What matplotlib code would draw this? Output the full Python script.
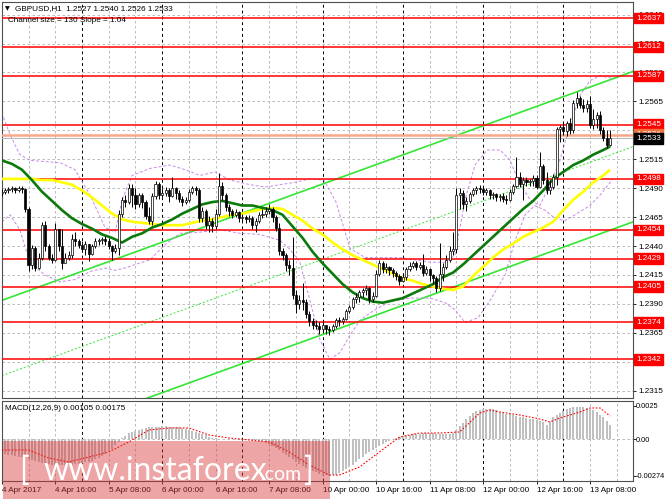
import numpy as np
import matplotlib
matplotlib.use("Agg")
import matplotlib.pyplot as plt
from matplotlib.patches import Rectangle

W, H = 665, 499
DPI = 100
FONT = "Liberation Sans"

# ── data (H1 candles, bar 0 = 4 Apr 2017 00:00) ─────────────────────────────
first_open = 1.2486
close = [1.2487, 1.2488, 1.2489, 1.2490, 1.2488, 1.2490, 1.2489, 1.2472, 1.2424, 1.2438,
         1.2421, 1.2430, 1.2458, 1.2440, 1.2430, 1.2428, 1.2455, 1.2440, 1.2425, 1.2430,
         1.2432, 1.2446, 1.2444, 1.2441, 1.2437, 1.2442, 1.2433, 1.2440, 1.2444, 1.2445,
         1.2446, 1.2444, 1.2440, 1.2436, 1.2438, 1.2468, 1.2480, 1.2478, 1.2490, 1.2484,
         1.2476, 1.2484, 1.2478, 1.2466, 1.2462, 1.2483, 1.2494, 1.2484, 1.2486, 1.2488,
         1.2483, 1.2490, 1.2486, 1.2481, 1.2478, 1.2480, 1.2487, 1.2490, 1.2488, 1.2464,
         1.2470, 1.2458, 1.2462, 1.2457, 1.2468, 1.2492, 1.2484, 1.2474, 1.2470, 1.2467,
         1.2469, 1.2464, 1.2465, 1.2463, 1.2464, 1.2458, 1.2462, 1.2467, 1.2468, 1.2470,
         1.2472, 1.2465, 1.2456, 1.2436, 1.2432, 1.2424, 1.2421, 1.2398, 1.2390, 1.2393,
         1.2392, 1.2381, 1.2375, 1.2372, 1.2371, 1.2368, 1.2372, 1.2368, 1.2367, 1.2371,
         1.2376, 1.2375, 1.2377, 1.2384, 1.2387, 1.2394, 1.2396, 1.2400, 1.2402, 1.2404,
         1.2394, 1.2397, 1.2416, 1.2425, 1.2420, 1.2422, 1.2419, 1.2417, 1.2414, 1.2410,
         1.2413, 1.2420, 1.2423, 1.2425, 1.2422, 1.2424, 1.2417, 1.2420, 1.2415, 1.2412,
         1.2404, 1.2416, 1.2422, 1.2428, 1.2436, 1.2437, 1.2484, 1.2486, 1.2476, 1.2479,
         1.2485, 1.2488, 1.2490, 1.2489, 1.2487, 1.2488, 1.2484, 1.2485, 1.2482, 1.2483,
         1.2481, 1.2480, 1.2487, 1.2492, 1.2500, 1.2494, 1.2497, 1.2495, 1.2496, 1.2499,
         1.2491, 1.2509, 1.2497, 1.2488, 1.2491, 1.2500, 1.2541, 1.2543, 1.2539, 1.2546,
         1.2540, 1.2564, 1.2568, 1.2562, 1.2559, 1.2563, 1.2545, 1.2550, 1.2553, 1.2540,
         1.2533, 1.2527, 1.2533]
high = [1.2489, 1.2490, 1.2491, 1.2492, 1.2491, 1.2492, 1.2492, 1.2490, 1.2474, 1.2441,
        1.2440, 1.2434, 1.2461, 1.2462, 1.2442, 1.2433, 1.2460, 1.2452, 1.2455, 1.2434,
        1.2436, 1.2450, 1.2452, 1.2446, 1.2444, 1.2444, 1.2442, 1.2442, 1.2447, 1.2447,
        1.2448, 1.2449, 1.2447, 1.2441, 1.2442, 1.2471, 1.2482, 1.2484, 1.2494, 1.2494,
        1.2490, 1.2486, 1.2486, 1.2480, 1.2474, 1.2486, 1.2496, 1.2495, 1.2490, 1.2491,
        1.2490, 1.2500, 1.2491, 1.2488, 1.2483, 1.2482, 1.2489, 1.2492, 1.2492, 1.2490,
        1.2474, 1.2472, 1.2466, 1.2464, 1.2472, 1.2503, 1.2495, 1.2486, 1.2476, 1.2472,
        1.2472, 1.2470, 1.2468, 1.2467, 1.2467, 1.2466, 1.2464, 1.2469, 1.2472, 1.2474,
        1.2476, 1.2474, 1.2467, 1.2460, 1.2438, 1.2434, 1.2428, 1.2448, 1.2402, 1.2398,
        1.2408, 1.2394, 1.2384, 1.2378, 1.2376, 1.2374, 1.2375, 1.2372, 1.2371, 1.2373,
        1.2378, 1.2379, 1.2379, 1.2386, 1.2389, 1.2396, 1.2399, 1.2402, 1.2404, 1.2406,
        1.2405, 1.2400, 1.2419, 1.2428, 1.2427, 1.2425, 1.2423, 1.2421, 1.2418, 1.2416,
        1.2416, 1.2422, 1.2426, 1.2427, 1.2427, 1.2426, 1.2433, 1.2423, 1.2421, 1.2416,
        1.2414, 1.2443, 1.2425, 1.2432, 1.2440, 1.2452, 1.2490, 1.2490, 1.2488, 1.2482,
        1.2487, 1.2490, 1.2492, 1.2493, 1.2491, 1.2490, 1.2489, 1.2487, 1.2486, 1.2485,
        1.2486, 1.2484, 1.2489, 1.2494, 1.2517, 1.2504, 1.2500, 1.2500, 1.2498, 1.2501,
        1.2501, 1.2521, 1.2511, 1.2504, 1.2497, 1.2502, 1.2543, 1.2545, 1.2547, 1.2548,
        1.2551, 1.2566, 1.2573, 1.2570, 1.2567, 1.2566, 1.2570, 1.2558, 1.2556, 1.2557,
        1.2543, 1.2540, 1.2540]
low = [1.2483, 1.2485, 1.2486, 1.2487, 1.2486, 1.2487, 1.2486, 1.2469, 1.2418, 1.2420,
       1.2418, 1.2420, 1.2428, 1.2436, 1.2428, 1.2425, 1.2427, 1.2436, 1.2420, 1.2425,
       1.2428, 1.2430, 1.2440, 1.2438, 1.2435, 1.2432, 1.2427, 1.2432, 1.2438, 1.2441,
       1.2442, 1.2441, 1.2437, 1.2428, 1.2434, 1.2432, 1.2465, 1.2474, 1.2476, 1.2474,
       1.2472, 1.2474, 1.2473, 1.2463, 1.2459, 1.2458, 1.2481, 1.2481, 1.2482, 1.2483,
       1.2478, 1.2482, 1.2481, 1.2478, 1.2475, 1.2476, 1.2478, 1.2485, 1.2484, 1.2461,
       1.2461, 1.2455, 1.2452, 1.2452, 1.2455, 1.2466, 1.2480, 1.2470, 1.2466, 1.2464,
       1.2465, 1.2461, 1.2461, 1.2460, 1.2461, 1.2455, 1.2452, 1.2460, 1.2464, 1.2465,
       1.2468, 1.2461, 1.2453, 1.2432, 1.2428, 1.2418, 1.2415, 1.2394, 1.2382, 1.2386,
       1.2385, 1.2378, 1.2371, 1.2368, 1.2368, 1.2364, 1.2366, 1.2364, 1.2363, 1.2366,
       1.2369, 1.2371, 1.2373, 1.2376, 1.2382, 1.2386, 1.2391, 1.2392, 1.2396, 1.2398,
       1.2391, 1.2392, 1.2396, 1.2414, 1.2417, 1.2417, 1.2415, 1.2413, 1.2411, 1.2406,
       1.2409, 1.2411, 1.2418, 1.2421, 1.2419, 1.2420, 1.2414, 1.2415, 1.2410, 1.2407,
       1.2400, 1.2401, 1.2410, 1.2420, 1.2426, 1.2432, 1.2434, 1.2472, 1.2472, 1.2470,
       1.2477, 1.2483, 1.2485, 1.2486, 1.2484, 1.2484, 1.2481, 1.2481, 1.2479, 1.2479,
       1.2478, 1.2476, 1.2479, 1.2485, 1.2490, 1.2491, 1.2480, 1.2492, 1.2492, 1.2492,
       1.2489, 1.2490, 1.2494, 1.2485, 1.2485, 1.2489, 1.2493, 1.2530, 1.2536, 1.2535,
       1.2537, 1.2538, 1.2559, 1.2559, 1.2556, 1.2556, 1.2542, 1.2541, 1.2542, 1.2537,
       1.2531, 1.2525, 1.2526]

# moving averages (every 3rd bar)
ma_bars = list(range(0, 181, 3)) + [182]
ma_green = [1.2514, 1.2511, 1.2506, 1.2497, 1.2487, 1.2479, 1.2471, 1.2464, 1.2459, 1.2455,
            1.2450, 1.2447, 1.2443, 1.2448, 1.2451, 1.2456, 1.2459, 1.2463, 1.2468, 1.2472,
            1.2476, 1.2478, 1.2479, 1.2477, 1.2475, 1.2475, 1.2473, 1.2471, 1.2467, 1.2457,
            1.2447, 1.2435, 1.2425, 1.2416, 1.2407, 1.2400, 1.2395, 1.2392, 1.2391, 1.2393,
            1.2395, 1.2399, 1.2403, 1.2407, 1.2413, 1.2417, 1.2424, 1.2432, 1.2440, 1.2448,
            1.2456, 1.2464, 1.2472, 1.2479, 1.2488, 1.2498, 1.2504, 1.2510, 1.2514, 1.2519,
            1.2523, 1.2526]
ma_yellow = [1.2498, 1.2498, 1.2498, 1.2498, 1.2497, 1.2497, 1.2495, 1.2493, 1.2488, 1.2482,
             1.2475, 1.2468, 1.2463, 1.2461, 1.2460, 1.2459, 1.2458, 1.2458, 1.2458, 1.2460,
             1.2462, 1.2463, 1.2465, 1.2467, 1.2468, 1.2470, 1.2472, 1.2473, 1.2472, 1.2467,
             1.2462, 1.2455, 1.2450, 1.2443, 1.2437, 1.2432, 1.2428, 1.2424, 1.2420, 1.2416,
             1.2412, 1.2410, 1.2407, 1.2405, 1.2403, 1.2402, 1.2405, 1.2414, 1.2422, 1.2430,
             1.2437, 1.2442, 1.2448, 1.2452, 1.2456, 1.2461, 1.2471, 1.2480, 1.2487, 1.2495,
             1.2501, 1.2506]

# bands (violet dashed), read at irregular bars
bu_bars = [0, 2.5, 5.4, 8.4, 12.9, 17.4, 21.9, 26.4, 30.9, 33.9, 36, 39, 44.3, 50.3, 54.8,
           59.3, 63.8, 68.3, 74.3, 78.8, 83.2, 87.7, 92.2, 96.4, 100, 104.2, 108.7, 114.7,
           119.2, 123.6, 128.1, 132.6, 135.6, 138.6, 141.6, 145.2, 149.1, 152.1, 155.1,
           158.1, 161, 164, 167, 170, 173, 176, 179, 182.6]
bu_val = [1.2555, 1.2536, 1.2519, 1.2514, 1.2513, 1.2512, 1.2506, 1.2484, 1.2456, 1.2452,
          1.2480, 1.2501, 1.2507, 1.2510, 1.2506, 1.2501, 1.2504, 1.2497, 1.2493, 1.2491,
          1.2493, 1.2495, 1.2498, 1.2497, 1.2478, 1.2438, 1.2430, 1.2430, 1.2430, 1.2428,
          1.2426, 1.2426, 1.2432, 1.2480, 1.2510, 1.2523, 1.2523, 1.2514, 1.2493, 1.2480,
          1.2475, 1.2493, 1.2514, 1.2545, 1.2570, 1.2583, 1.2587, 1.2585]
bl_bars = [0, 2.5, 5.4, 8.4, 12.9, 17.4, 21.9, 26.4, 30.9, 33.9, 36.9, 39.9, 44.3, 48.8,
           53.3, 59.3, 65.3, 71.3, 77.3, 83.2, 86.2, 89.2, 92.2, 95.2, 98.2, 101.2, 104.2,
           107.2, 111.7, 116.2, 122.1, 128.1, 132.6, 135.6, 138.6, 142.5, 146.1, 150.6,
           153.6, 156.6, 159.5, 162.5, 165.5, 168.5, 171.5, 176, 179, 182.6]
bl_val = [1.2461, 1.2467, 1.2454, 1.2426, 1.2415, 1.2409, 1.2411, 1.2418, 1.2421, 1.2419,
          1.2421, 1.2424, 1.2428, 1.2441, 1.2451, 1.2452, 1.2454, 1.2451, 1.2450, 1.2445,
          1.2437, 1.2426, 1.2393, 1.2359, 1.2342, 1.2348, 1.2363, 1.2376, 1.2385, 1.2392,
          1.2395, 1.2395, 1.2391, 1.2385, 1.2374, 1.2378, 1.2393, 1.2415, 1.2445, 1.2467,
          1.2475, 1.2471, 1.2464, 1.2462, 1.2467, 1.2475, 1.2484, 1.2497]

# regression channel (mid line end points, half width)
chan_bars = [0, 189]
chan_mid = [1.2328, 1.2526]
chan_half = 0.0065

levels = [1.2637, 1.2612, 1.2587, 1.2545, 1.2498, 1.2454, 1.2429, 1.2405, 1.2374, 1.2342]
bid = 1.2533
orange_level = 1.2536
price_ticks = [1.2315, 1.2340, 1.2365, 1.2390, 1.2415, 1.2440, 1.2465, 1.2490,
               1.2515, 1.2540, 1.2565, 1.2590, 1.2615, 1.2640]

# MACD (x1e-5): main as histogram, signal as dotted line
macd_e5 = [-110, -113, -117, -120, -125, -130, -135, -142, -150, -155, -162, -168, -175, -180,
           -185, -190, -192, -194, -195, -194, -192, -190, -187, -184, -180, -174, -167, -160,
           -150, -138, -125, -108, -90, -70, -45, -20, 10, 28, 45, 55, 65, 72, 80, 85, 89, 92,
           94, 96, 97, 97, 96, 95, 92, 89, 85, 79, 72, 65, 57, 48, 40, 30, 20, 13, 8, 6, 4, 3,
           2, 1, 0, -2, -3, -4, -5, -5, -8, -11, -15, -25, -37, -50, -67, -83, -100, -117, -133,
           -150, -167, -183, -200, -213, -227, -240, -248, -257, -265, -270, -274, -270, -265,
           -253, -240, -223, -207, -190, -170, -150, -130, -113, -97, -80, -65, -50, -35, -23,
           -12, 0, 8, 17, 25, 30, 34, 38, 40, 43, 45, 45, 45, 45, 43, 41, 40, 42, 43, 45, 70,
           100, 125, 150, 175, 200, 212, 222, 230, 228, 226, 225, 217, 208, 200, 193, 187, 180,
           175, 170, 165, 160, 155, 150, 143, 137, 130, 110, 130, 165, 185, 200, 215, 225, 233,
           240, 243, 245, 245, 238, 230, 220, 205, 185, 165, 135, 105]
sig_bars = [0, 8, 14, 20, 26, 32, 38, 44, 50, 56, 62, 68, 74, 80, 86, 92, 98, 101, 107, 113,
            119, 125, 131, 137, 143, 146, 149, 155, 161, 164, 167, 170, 173, 176, 179, 182]
sig_e5 = [-80, -80, -140, -170, -133, -95, -20, 70, 85, 85, 32, 10, -5, -20, -95, -193, -268,
          -268, -208, -95, 17, 47, 47, 55, 197, 220, 205, 182, 152, 130, 160, 182, 205, 235,
          235, 175]

date_bars = list(range(0, 177, 16))
date_labels = ["4 Apr 2017", "4 Apr 16:00", "5 Apr 08:00", "6 Apr 00:00", "6 Apr 16:00",
               "7 Apr 08:00", "10 Apr 00:00", "10 Apr 16:00", "11 Apr 08:00",
               "12 Apr 00:00", "12 Apr 16:00", "13 Apr 08:00"]


def px(x, y):
    return x / W, 1 - y / H


def make():
    fig = plt.figure(figsize=(W / DPI, H / DPI), dpi=DPI)
    fig.patch.set_facecolor("white")
    XL, XR = 1.8, 632.5
    ax = fig.add_axes([XL / W, 1 - 397.5 / H, (XR - XL) / W, 396 / H])
    am = fig.add_axes([XL / W, 1 - 480.5 / H, (XR - XL) / W, 80 / H])
    xmax = (XR - XL) / 3.342

    c = np.array(close)
    o = np.r_[first_open, c[:-1]]
    hi = np.maximum(np.array(high), np.maximum(o, c))
    lo = np.minimum(np.array(low), np.minimum(o, c))
    n = len(c)
    idx = np.arange(n)

    for a in (ax, am):
        a.set_xlim(0, xmax)
        for s in a.spines.values():
            s.set_linewidth(0.8)
            s.set_color("#505050")
        a.tick_params(axis="both", length=0, labelsize=5.9)
        a.set_xticks([])
        # gray grid every 8 bars, black day separators every 24
        for b in range(8, 189, 8):
            if b % 24:
                a.axvline(b, color="#b0b0b0", lw=0.6, ls=(0, (3, 3)), zorder=0)
            else:
                a.axvline(b, color="black", lw=0.7, ls=(0, (3, 3)), zorder=0.5)

    # ── main panel ────────────────────────────────────────────────────────────
    ax.set_ylim(1.23091, 1.26513)
    for t in price_ticks:
        ax.axhline(t, color="#b0b0b0", lw=0.6, ls=(0, (3, 3)), zorder=0)
    ax.yaxis.tick_right()
    ax.set_yticks(price_ticks)
    ax.set_yticklabels([f"{t:.4f}" for t in price_ticks], fontsize=5.9, family=FONT)
    ax.tick_params(axis="y", length=2.5, width=0.6, pad=2, right=True, labelright=True)

    # regression channel
    cb = np.array(chan_bars, float)
    cm = np.array(chan_mid)
    ax.plot(cb, cm + chan_half, color="#33e633", lw=1.2, zorder=2)
    ax.plot(cb, cm - chan_half, color="#33e633", lw=1.2, zorder=2)
    ax.plot(cb, cm, color="#33e633", lw=0.7, ls=(0, (2, 2)), zorder=2)

    # violet bands
    ax.plot(bu_bars, bu_val, color="#c88ae8", lw=0.7, ls=(0, (3, 2)), zorder=2)
    ax.plot(bl_bars, bl_val, color="#c88ae8", lw=0.7, ls=(0, (3, 2)), zorder=2)

    # horizontal levels
    for lv in levels:
        ax.axhline(lv, color="red", lw=1.1, zorder=3)
    ax.axhline(orange_level, color="#f8a888", lw=1.8, zorder=3)
    ax.axhline(bid, color="#b8b8b8", lw=0.8, zorder=3)

    # moving averages
    ax.plot(ma_bars, ma_yellow, color="#ffff00", lw=1.9, zorder=4, solid_capstyle="butt")
    ax.plot(ma_bars, ma_green, color="#0b7a0b", lw=1.9, zorder=4, solid_capstyle="butt")

    # candles
    bw = 0.62
    ax.vlines(idx, lo, hi, color="black", lw=0.7, zorder=5)
    for i in range(n):
        bot = min(o[i], c[i])
        hgt = max(abs(c[i] - o[i]), 0.00006)
        fc = "white" if c[i] >= o[i] else "black"
        ax.add_patch(Rectangle((i - bw / 2, bot), bw, hgt, facecolor=fc,
                               edgecolor="black", lw=0.5, zorder=6))

    # level labels on the price axis
    yt = ax.get_yaxis_transform()
    for lv in levels:
        ax.text(1.0055, lv, f"{lv:.4f}", transform=yt, fontsize=5.9, family=FONT,
                color="white", va="center", ha="left", clip_on=False, zorder=10,
                bbox=dict(boxstyle="square,pad=0.22", fc="red", ec="red"))
    ax.text(1.0055, orange_level + 0.00005, f"{orange_level:.4f}", transform=yt,
            fontsize=5.9, family=FONT, color="white", va="center", ha="left",
            clip_on=False, zorder=10,
            bbox=dict(boxstyle="square,pad=0.22", fc="#f07040", ec="#f07040"))
    ax.text(1.0055, bid, f"{bid:.4f}", transform=yt, fontsize=5.9, family=FONT,
            color="white", va="center", ha="left", clip_on=False, zorder=11,
            bbox=dict(boxstyle="square,pad=0.22", fc="black", ec="black"))

    # ── MACD panel ────────────────────────────────────────────────────────────
    macd = np.array(macd_e5) * 1e-5
    sig = np.array(sig_e5) * 1e-5
    am.set_ylim(-0.003091, 0.002911)
    am.axhline(0, color="#b0b0b0", lw=0.6, ls=(0, (3, 3)), zorder=0)
    am.bar(idx, macd, width=0.6, color="#c0c0c0", zorder=2)
    am.plot(sig_bars, sig, color="red", lw=0.8, ls=(0, (1.5, 1.5)), zorder=3)
    am.yaxis.tick_right()
    am.set_yticks([0.0025, 0.0, -0.00274])
    am.set_yticklabels(["0.0025", "0.00", "-0.00274"], fontsize=5.3, family=FONT)
    am.tick_params(axis="y", length=2.0, width=0.6, pad=0.6)
    am.set_xticks(date_bars)
    am.set_xticklabels(date_labels, fontsize=5.9, family=FONT, ha="left")
    am.tick_params(axis="x", length=2.5, width=0.6, pad=2, bottom=True)

    # ── header texts ──────────────────────────────────────────────────────────
    fig.text(*px(5, 9), "\u25bc", fontsize=4.5, family="DejaVu Sans", va="center")
    fig.text(*px(15, 8.5), "GBPUSD,H1  1.2527 1.2540 1.2526 1.2533", fontsize=5.9,
             family=FONT, va="center")
    fig.text(*px(8, 20), "Channel size = 130 Slope = 1.04", fontsize=5.9,
             family=FONT, va="center")
    fig.text(*px(5, 409), "MACD(12,26,9) 0.00105 0.00175", fontsize=5.9,
             family=FONT, va="center")

    # ── watermark ─────────────────────────────────────────────────────────────
    wm = Rectangle(px(3, 499), 327 / W, 58 / H, transform=fig.transFigure,
                   facecolor=(0.85, 0.22, 0.22), alpha=0.45, edgecolor="none", zorder=20)
    fig.patches.append(wm)
    wkw = dict(family="Lato", color="white", va="baseline", zorder=21)
    fig.text(*px(19, 480), "[", fontsize=23, **wkw)
    fig.text(*px(43, 480), "www.instaforex", fontsize=23, **wkw)
    fig.text(*px(261, 480), ".com", fontsize=14, **wkw)
    fig.text(*px(304, 480), "]", fontsize=23, **wkw)

    fig.savefig("out.png", dpi=DPI)
    plt.close(fig)


if __name__ == "__main__":
    make()
